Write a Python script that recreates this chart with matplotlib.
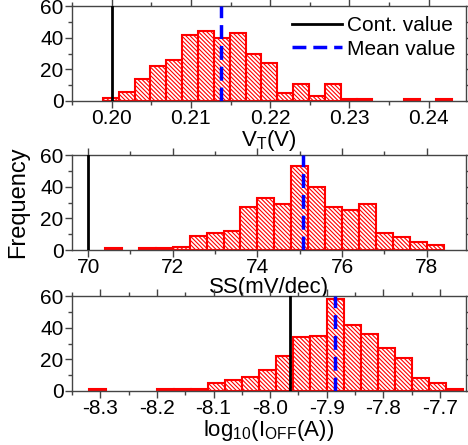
import numpy as np
import matplotlib
matplotlib.use("Agg")
import matplotlib.pyplot as plt
from matplotlib.ticker import MultipleLocator, FormatStrFormatter

plt.rcParams['font.family'] = ['Liberation Sans', 'DejaVu Sans']
plt.rcParams['axes.unicode_minus'] = False
plt.rcParams['mathtext.default'] = 'regular'
plt.rcParams['hatch.linewidth'] = 0.8

# ── data ──────────────────────────────────────────────────
# V_T histogram
vt_start, vt_width = 0.1989, 0.002
vt_counts = [2, 6, 14, 22, 26, 42, 44, 40, 43, 30, 24, 5, 11, 3, 11, 1, 1, 0, 0, 1, 0, 1]
vt_cont, vt_mean = 0.200, 0.2138
vt_ticks = [0.20, 0.21, 0.22, 0.23, 0.24]

# SS histogram
ss_start, ss_width = 70.0, 0.4
ss_counts = [0, 1, 0, 1, 1, 2, 9, 11, 12, 27, 33, 29, 53, 40, 27, 25, 29, 11, 8, 5, 3]
ss_cont, ss_mean = 70.0, 75.07
ss_ticks = [70, 72, 74, 76, 78]

# log10(I_OFF) histogram
ioff_start, ioff_width = -8.32, 0.03
ioff_counts = [1, 0, 0, 0, 1, 1, 1, 5, 7, 9, 13, 22, 34, 35, 58, 42, 36, 27, 21, 8, 5, 1]
ioff_cont, ioff_mean = -7.965, -7.885
ioff_ticks = [-8.3, -8.2, -8.1, -8.0, -7.9, -7.8, -7.7]

FS = 15
fig = plt.figure(figsize=(4.68, 4.45), dpi=100)
W = 468.0; H = 445.0
def axes_at(top, bottom, left=72, right=466):
    return fig.add_axes([left / W, 1 - bottom / H, (right - left) / W, (bottom - top) / H])

def panel(ax, start, width, counts, cont, mean, xlim, ticks, minor, fmt, xlabel):
    counts = np.array(counts)
    lefts = start + width * np.arange(len(counts))
    keep = counts > 0
    ax.bar(lefts[keep], counts[keep], width=width, align='edge', facecolor='white',
           edgecolor='red', linewidth=1.5, hatch='\\' * 8, zorder=2)
    ax.axvline(cont, color='black', lw=2, zorder=3, label='Cont. value')
    ax.axvline(mean, color='blue', lw=2.5, ls=(0, (4, 2)), zorder=3, label='Mean value')
    ax.set_xlim(*xlim)
    ax.set_ylim(0, 60)
    ax.set_xticks(ticks)
    ax.xaxis.set_minor_locator(MultipleLocator(minor))
    ax.xaxis.set_major_formatter(FormatStrFormatter(fmt))
    ax.set_yticks([0, 20, 40, 60])
    ax.yaxis.set_minor_locator(MultipleLocator(10))
    ax.tick_params(which='both', labelsize=FS, color='#444', width=1, pad=1)
    ax.tick_params(which='major', length=5)
    ax.tick_params(which='minor', length=3)
    ax.tick_params(which='both', top=True, right=True)
    for s in ax.spines.values():
        s.set_color('#444')
        s.set_linewidth(1)
    ax.set_xlabel(xlabel, fontsize=FS + 1, labelpad=0)
    return ax

ax1 = axes_at(6, 101)
panel(ax1, vt_start, vt_width, vt_counts, vt_cont, vt_mean, (0.195, 0.2447),
      vt_ticks, 0.005, '%.2f', 'V$_T$(V)')
ax1.legend(loc='upper right', frameon=False, fontsize=FS, handlelength=2.4,
           handletextpad=0.25, labelspacing=0.2, borderaxespad=0.1)

ax2 = axes_at(155, 250)
panel(ax2, ss_start, ss_width, ss_counts, ss_cont, ss_mean, (69.62, 78.93),
      ss_ticks, 1, '%d', 'SS(mV/dec)')
ax2.set_ylabel('Frequency', fontsize=FS + 2)
ax2.yaxis.set_label_coords(-0.11, 0.5)

ax3 = axes_at(296, 391)
panel(ax3, ioff_start, ioff_width, ioff_counts, ioff_cont, ioff_mean, (-8.35, -7.654),
      ioff_ticks, 0.05, '%.1f', 'log$_{10}$(I$_{OFF}$(A))')

fig.savefig('out.png', dpi=100)
